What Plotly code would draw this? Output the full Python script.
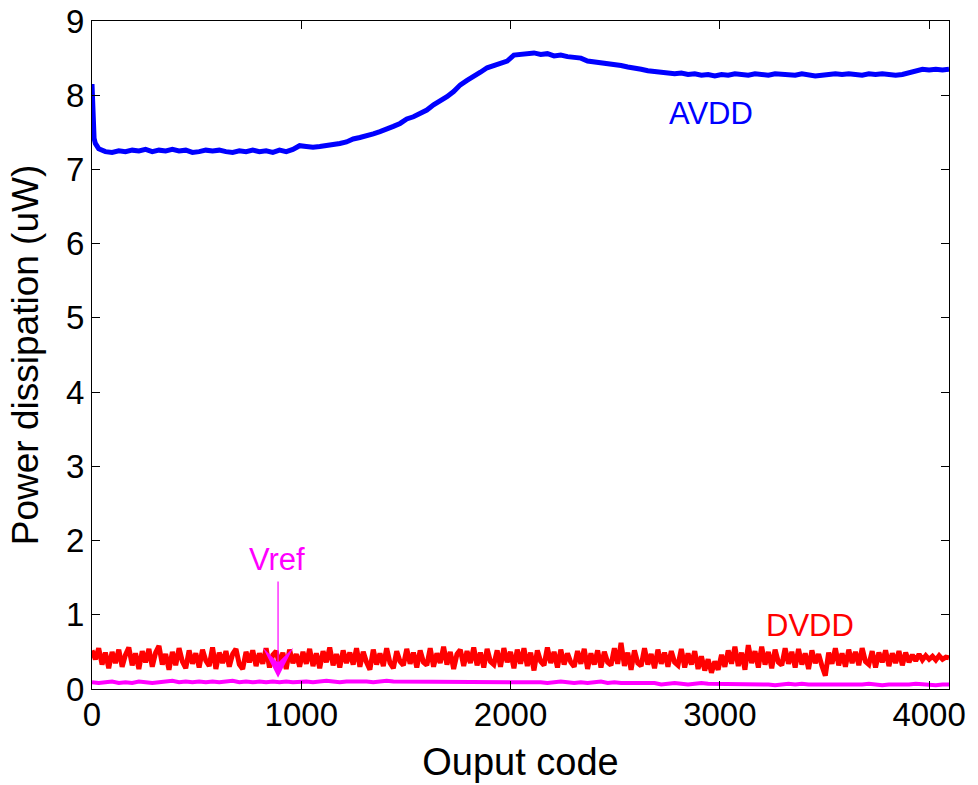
import plotly.graph_objects as go

# ---------------- data ----------------
avdd_x = [0, 3, 6, 10, 16, 24] + list(range(32, 4096, 32)) + [4095]
avdd_y = [8.15, 7.70, 7.52, 7.42, 7.35, 7.30,
          # 32 .. 480
          7.28, 7.24, 7.23, 7.25, 7.24, 7.26, 7.25, 7.27, 7.24, 7.26, 7.25, 7.27, 7.25, 7.26, 7.23,
          # 512 .. 992
          7.24, 7.26, 7.25, 7.26, 7.24, 7.23, 7.25, 7.24, 7.26, 7.24, 7.25, 7.23, 7.26, 7.24, 7.27, 7.32,
          # 1024 .. 1504
          7.31, 7.30, 7.31, 7.32, 7.33, 7.35, 7.37, 7.41, 7.43, 7.45, 7.48, 7.51, 7.54, 7.58, 7.62, 7.68,
          # 1536 .. 2016
          7.71, 7.75, 7.80, 7.87, 7.92, 7.98, 8.05, 8.14, 8.20, 8.25, 8.31, 8.37, 8.40, 8.43, 8.46, 8.54,
          # 2048 .. 2528
          8.55, 8.56, 8.57, 8.55, 8.56, 8.53, 8.54, 8.52, 8.51, 8.50, 8.46, 8.45, 8.44, 8.42, 8.41, 8.40,
          # 2560 .. 3040
          8.38, 8.37, 8.35, 8.33, 8.32, 8.31, 8.30, 8.29, 8.30, 8.28, 8.29, 8.27, 8.28, 8.26, 8.28, 8.27,
          # 3072 .. 3552
          8.29, 8.28, 8.27, 8.29, 8.28, 8.27, 8.29, 8.28, 8.28, 8.27, 8.29, 8.28, 8.26, 8.27, 8.28, 8.29,
          # 3584 .. 4064
          8.28, 8.29, 8.28, 8.27, 8.29, 8.28, 8.29, 8.28, 8.27, 8.28, 8.30, 8.33, 8.35, 8.34, 8.35, 8.34,
          8.35]

dvdd_x = list(range(0, 4096, 16)) + [4095]
dvdd_y = [0.52, 0.40, 0.55, 0.33, 0.49, 0.28, 0.50, 0.35, 0.53, 0.30, 0.46, 0.56, 0.32, 0.48, 0.27, 0.51,
          0.36, 0.54, 0.30, 0.49, 0.58, 0.33, 0.47, 0.26, 0.50, 0.32, 0.55, 0.37, 0.28, 0.52, 0.34, 0.48,
          0.29, 0.53, 0.38, 0.31, 0.56, 0.27, 0.49, 0.35, 0.51, 0.30, 0.47, 0.54, 0.33, 0.27, 0.50, 0.36,
          0.52, 0.31, 0.48, 0.34, 0.55, 0.29, 0.46, 0.51, 0.32, 0.49, 0.27, 0.53, 0.35, 0.47, 0.30, 0.50,
          0.34, 0.54, 0.31, 0.48, 0.28, 0.51, 0.36, 0.56, 0.32, 0.47, 0.29, 0.52, 0.35, 0.49, 0.33, 0.55,
          0.30, 0.50, 0.36, 0.26, 0.53, 0.33, 0.48, 0.31, 0.55, 0.35, 0.28, 0.51, 0.37, 0.32, 0.54, 0.34,
          0.49, 0.29, 0.52, 0.36, 0.32, 0.55, 0.30, 0.48, 0.35, 0.57, 0.33, 0.50, 0.27, 0.47, 0.53, 0.31,
          0.51, 0.35, 0.56, 0.32, 0.49, 0.29, 0.54, 0.37, 0.33, 0.52, 0.30, 0.55, 0.36, 0.50, 0.28, 0.53,
          0.34, 0.55, 0.31, 0.49, 0.25, 0.52, 0.37, 0.32, 0.56, 0.35, 0.50, 0.29, 0.53, 0.33, 0.48, 0.36,
          0.30, 0.51, 0.34, 0.54, 0.27, 0.48, 0.33, 0.52, 0.29, 0.50, 0.36, 0.32, 0.55, 0.34, 0.62, 0.31,
          0.49, 0.26, 0.52, 0.35, 0.31, 0.55, 0.33, 0.47, 0.28, 0.53, 0.34, 0.49, 0.30, 0.51, 0.36, 0.32,
          0.54, 0.29, 0.48, 0.33, 0.51, 0.27, 0.44, 0.25, 0.40, 0.22, 0.37, 0.26, 0.46, 0.30, 0.52, 0.34,
          0.57, 0.31, 0.49, 0.26, 0.59, 0.35, 0.51, 0.29, 0.57, 0.33, 0.50, 0.28, 0.53, 0.36, 0.32, 0.55,
          0.34, 0.50, 0.29, 0.54, 0.33, 0.48, 0.27, 0.52, 0.35, 0.47, 0.31, 0.18, 0.49, 0.34, 0.55, 0.32,
          0.48, 0.30, 0.53, 0.35, 0.50, 0.32, 0.55, 0.37, 0.33, 0.51, 0.29, 0.49, 0.36, 0.52, 0.31, 0.48,
          0.35, 0.51, 0.32, 0.49, 0.36, 0.46, 0.38, 0.47, 0.39, 0.45, 0.40, 0.44, 0.39, 0.45, 0.40, 0.43,
          0.42]

vref_x = list(range(0, 4096, 32)) + [4095]
vref_y = [0.09, 0.08, 0.09, 0.10, 0.08, 0.09, 0.08, 0.10, 0.09, 0.08, 0.09, 0.10, 0.11, 0.09, 0.10, 0.09,
          0.10, 0.09, 0.10, 0.09, 0.10, 0.11, 0.09, 0.10, 0.09, 0.10, 0.09, 0.10, 0.09, 0.10, 0.09, 0.10,
          0.10, 0.09, 0.10, 0.11, 0.10, 0.09, 0.10, 0.10, 0.11, 0.10, 0.09, 0.10, 0.11, 0.10, 0.10, 0.09,
          0.10, 0.09, 0.10, 0.10, 0.09, 0.10, 0.09, 0.10, 0.09, 0.10, 0.09, 0.09, 0.10, 0.09, 0.10, 0.09,
          0.09, 0.10, 0.09, 0.09, 0.08, 0.09, 0.10, 0.09, 0.08, 0.09, 0.08, 0.09, 0.10, 0.08, 0.09, 0.08,
          0.08, 0.07, 0.08, 0.07, 0.08, 0.06, 0.07, 0.08, 0.07, 0.06, 0.07, 0.08, 0.07, 0.07, 0.06, 0.07,
          0.07, 0.06, 0.07, 0.06, 0.07, 0.06, 0.05, 0.06, 0.07, 0.06, 0.07, 0.06, 0.06, 0.05, 0.06, 0.06,
          0.05, 0.06, 0.05, 0.06, 0.07, 0.06, 0.05, 0.06, 0.06, 0.05, 0.06, 0.07, 0.06, 0.06, 0.05, 0.06,
          0.06]

x_ticks = [0, 1000, 2000, 3000, 4000]
y_ticks = [0, 1, 2, 3, 4, 5, 6, 7, 8, 9]

labels = ["AVDD", "DVDD", "Vref"]
label_pos = [(2957, 7.75), (3430, 0.86), (884, 1.74)]
vref_arrow = [(889, 1.47), (889, 0.15)]

# ---------------- figure ----------------
FONT = "Liberation Sans, Arial, Helvetica, sans-serif"
fig = go.Figure()
fig.add_trace(go.Scatter(x=vref_x, y=vref_y, mode="lines",
                         line=dict(color="#FF00FF", width=4), name="Vref"))
fig.add_trace(go.Scatter(x=dvdd_x, y=dvdd_y, mode="lines",
                         line=dict(color="#FF0000", width=5), name="DVDD"))
fig.add_trace(go.Scatter(x=avdd_x, y=avdd_y, mode="lines",
                         line=dict(color="#0000FF", width=5), name="AVDD"))

colors = ["#0000FF", "#FF0000", "#FF00FF"]
for lab, (lx, ly), c in zip(labels, label_pos, colors):
    fig.add_annotation(x=lx, y=ly, text=lab, showarrow=False,
                       font=dict(family=FONT, size=31, color=c))

fig.add_annotation(x=vref_arrow[1][0], y=vref_arrow[1][1], ax=vref_arrow[0][0], ay=vref_arrow[0][1],
                   axref="x", ayref="y", xref="x", yref="y", text="", showarrow=True,
                   arrowhead=3, arrowsize=4.2, arrowwidth=1.2, arrowcolor="#FF00FF")

axis_common = dict(showline=True, linecolor="black", linewidth=1, mirror="ticks",
                   ticks="inside", ticklen=8, tickcolor="black", tickwidth=1,
                   showgrid=False, zeroline=False, automargin=False,
                   tickfont=dict(family=FONT, size=33, color="black"))

fig.update_xaxes(range=[0, 4095], tickvals=x_ticks, ticklabelstandoff=-4, **axis_common,
                 title=dict(text="Ouput code", font=dict(family=FONT, size=38, color="black"),
                            standoff=16))
fig.update_yaxes(range=[0, 9], tickvals=y_ticks, **axis_common,
                 title=dict(text="Power dissipation (uW)", font=dict(family=FONT, size=37, color="black"),
                            standoff=16))

fig.update_layout(width=978, height=785, showlegend=False,
                  margin=dict(l=92, r=29, t=21, b=96),
                  plot_bgcolor="white", paper_bgcolor="white",
                  font=dict(family=FONT))

fig.write_html("out.html")
